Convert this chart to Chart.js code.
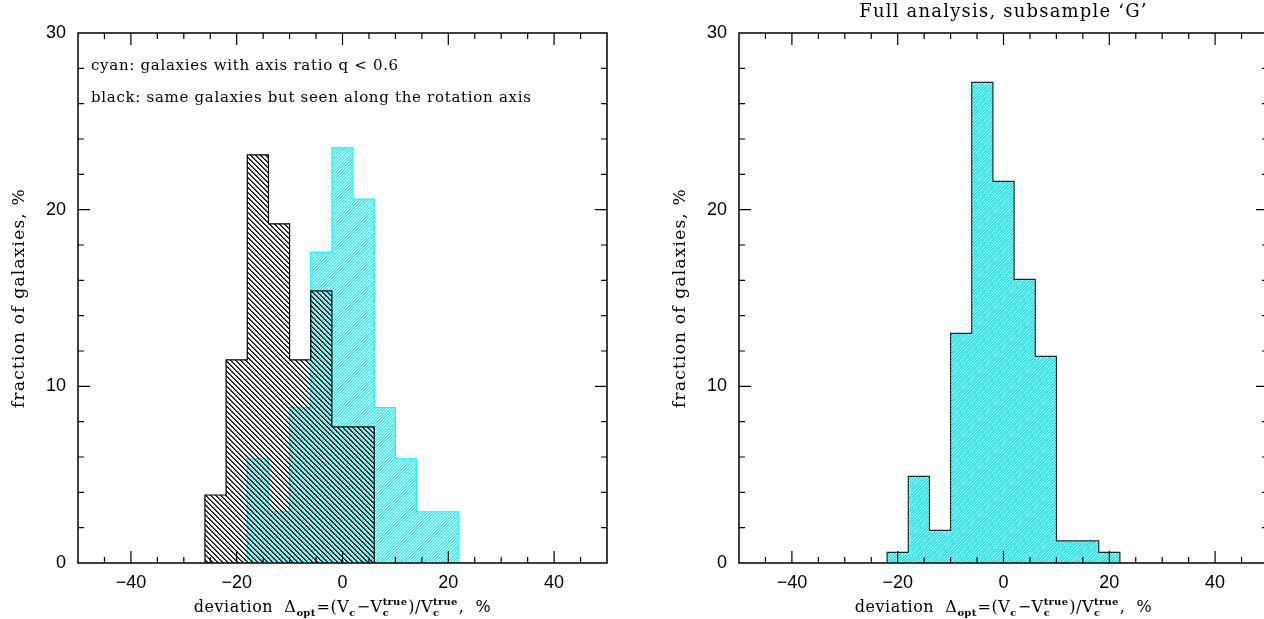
<!DOCTYPE html>
<html>
<head>
<meta charset="utf-8">
<script src="https://cdn.jsdelivr.net/npm/chart.js@4.4.0/dist/chart.umd.min.js"></script>
<style>
html, body { margin: 0; padding: 0; background: #fff; overflow: hidden; width: 1264px; height: 619px; }
.panel { position: absolute; top: 0; }
#leftPanel { left: 0; }
#rightPanel { left: 661px; }
</style>
</head>
<body>
<div class="panel" id="leftPanel"><canvas id="leftChart" width="632" height="619"></canvas></div>
<div class="panel" id="rightPanel"><canvas id="rightChart" width="632" height="619"></canvas></div>
<script>
// histogram bins: edges of the bins (deviation, %) and fraction of galaxies (%)
const blackEdges = [-26, -22, -18, -14, -10, -6, -2, 2, 6];
const blackPct   = [3.85, 11.5, 23.1, 19.2, 11.5, 15.4, 7.7, 7.7];

const cyanEdges = [-18, -14, -10, -6, -2, 2, 6, 10, 14, 18, 22];
const cyanPct   = [5.9, 2.9, 8.8, 17.6, 23.5, 20.6, 8.8, 5.9, 2.9, 2.9];

const fullEdges = [-22, -18, -14, -10, -6, -2, 2, 6, 10, 14, 18, 22];
const fullPct   = [0.6, 4.9, 1.85, 13.0, 27.2, 21.6, 16.05, 11.7, 1.25, 1.25, 0.6];

const xTickValues = [-40, -20, 0, 20, 40];
const yTickValues = [0, 10, 20, 30];

const noteLines = ['cyan: galaxies with axis ratio q < 0.6', 'black: same galaxies but seen along the rotation axis'];
const rightTitle = 'Full analysis, subsample \u2018G\u2019';
const yTitle = 'fraction of galaxies, %';

const SERIF = '"DejaVu Serif", "Liberation Serif", serif';
const SANS = '"Liberation Sans", Arial, sans-serif';

// turn bins into points of a stepped outline
function stepPoints(edges, pct) {
    const pts = [{ x: edges[0], y: 0 }];
    pct.forEach((v, i) => pts.push({ x: edges[i], y: v }));
    pts.push({ x: edges[edges.length - 1], y: 0 });
    return pts;
}

// pixel hatch patterns
function hatch(size, fn) {
    const c = document.createElement('canvas');
    c.width = size; c.height = size;
    const g = c.getContext('2d');
    const img = g.createImageData(size, size);
    for (let y = 0; y < size; y++) {
        for (let x = 0; x < size; x++) {
            const col = fn(x, y);
            if (!col) continue;
            const k = (y * size + x) * 4;
            img.data[k] = col[0]; img.data[k + 1] = col[1]; img.data[k + 2] = col[2]; img.data[k + 3] = col[3];
        }
    }
    g.putImageData(img, 0, 0);
    return g.createPattern(c, 'repeat');
}

const blackHatch = hatch(5, (x, y) => {
    const d = ((x - y) % 5 + 5) % 5;
    return d === 0 ? [0, 0, 0, 255] : d === 1 ? [0, 0, 0, 170] : null;
});
const cyanLightHatch = hatch(3, (x, y) => {
    const d = (x + y) % 3;
    return d === 0 ? [0, 255, 255, 255] : d === 1 ? [0, 255, 255, 130] : null;
});
const cyanHatch = hatch(3, (x, y) => {
    const d = (x + y) % 3;
    return d === 2 ? null : [0, 255, 255, 255];
});

function spaced(ctx, font, spacing) {
    ctx.font = font;
    ctx.letterSpacing = spacing + 'px';
}

// frame with inward ticks on all four sides
const framePlugin = {
    id: 'frame',
    afterDraw(chart) {
        const { ctx, chartArea: a, scales } = chart;
        ctx.save();
        ctx.strokeStyle = '#000';
        ctx.lineWidth = 1.5;
        ctx.strokeRect(a.left, a.top, a.right - a.left, a.bottom - a.top);
        ctx.lineWidth = 1.2;
        ctx.beginPath();
        for (let v = -45; v <= 45; v += 5) {
            const px = scales.x.getPixelForValue(v);
            const len = v % 20 === 0 ? 12 : 6;
            ctx.moveTo(px, a.bottom); ctx.lineTo(px, a.bottom - len);
            ctx.moveTo(px, a.top); ctx.lineTo(px, a.top + len);
        }
        for (let v = 2; v < 30; v += 2) {
            const py = scales.y.getPixelForValue(v);
            const len = v % 10 === 0 ? 12 : 6;
            ctx.moveTo(a.left, py); ctx.lineTo(a.left + len, py);
            ctx.moveTo(a.right, py); ctx.lineTo(a.right - len, py);
        }
        ctx.stroke();

        // y title
        ctx.fillStyle = '#000';
        spaced(ctx, '17px ' + SERIF, 1.2);
        ctx.textAlign = 'center';
        ctx.textBaseline = 'middle';
        ctx.save();
        ctx.translate(20, (a.top + a.bottom) / 2);
        ctx.rotate(-Math.PI / 2);
        ctx.fillText(yTitle, 0, 0);
        ctx.restore();

        drawXTitle(ctx, (a.left + a.right) / 2, 612);
        ctx.restore();
    }
};

// deviation Δopt=(Vc−Vc^true)/Vc^true, %
function drawXTitle(ctx, cx, base) {
    const parts = [
        { text: 'deviation  \u0394' }, { sub: 'opt' }, { text: '=(V' }, { sub: 'c' },
        { text: '\u2212V' }, { sub: 'c', sup: 'true' }, { text: ')/V' }, { sub: 'c', sup: 'true' },
        { text: ',  %' }
    ];
    const big = '16px ' + SERIF, small = 'bold 10px ' + SERIF;
    const widthOf = p => {
        if (p.text) { spaced(ctx, big, 0.5); return ctx.measureText(p.text).width; }
        spaced(ctx, small, 0.3);
        return Math.max(ctx.measureText(p.sub || '').width, ctx.measureText(p.sup || '').width) + 1;
    };
    const total = parts.reduce((s, p) => s + widthOf(p), 0);
    let x = cx - total / 2;
    ctx.textAlign = 'left';
    ctx.textBaseline = 'alphabetic';
    parts.forEach(p => {
        const w = widthOf(p);
        if (p.text) {
            spaced(ctx, big, 0.5); ctx.fillText(p.text, x, base);
        } else {
            spaced(ctx, small, 0.3);
            if (p.sub) ctx.fillText(p.sub, x, base + 4);
            if (p.sup) ctx.fillText(p.sup, x, base - 7);
        }
        x += w;
    });
}

const notesPlugin = {
    id: 'notes',
    afterDraw(chart) {
        const ctx = chart.ctx;
        ctx.save();
        ctx.fillStyle = '#000';
        spaced(ctx, '15px ' + SERIF, 0.7);
        ctx.textAlign = 'left';
        ctx.textBaseline = 'middle';
        ctx.fillText(noteLines[0], 91, 66);
        ctx.fillText(noteLines[1], 91, 98);
        ctx.restore();
    }
};

const titlePlugin = {
    id: 'topTitle',
    afterDraw(chart) {
        const { ctx, chartArea: a } = chart;
        ctx.save();
        ctx.fillStyle = '#000';
        spaced(ctx, '18px ' + SERIF, 1.2);
        ctx.textAlign = 'center';
        ctx.textBaseline = 'middle';
        ctx.fillText(rightTitle, (a.left + a.right) / 2, 12);
        ctx.restore();
    }
};

function histOptions() {
    return {
        responsive: false,
        animation: false,
        layout: { padding: { top: 33, right: 25, left: 0, bottom: 0 } },
        elements: { point: { radius: 0 }, line: { tension: 0 } },
        scales: {
            x: {
                type: 'linear', min: -50, max: 50,
                afterBuildTicks: s => { s.ticks = xTickValues.map(v => ({ value: v })); },
                afterFit: s => { s.height = 56; },
                grid: { display: false, drawTicks: false },
                border: { display: false },
                ticks: {
                    color: '#000', padding: 9, maxRotation: 0,
                    font: { family: SANS, size: 18 },
                    callback: v => (v < 0 ? '\u2212' + Math.abs(v) : String(v))
                }
            },
            y: {
                min: 0, max: 30,
                afterBuildTicks: s => { s.ticks = yTickValues.map(v => ({ value: v })); },
                afterFit: s => { s.width = 78; },
                grid: { display: false, drawTicks: false },
                border: { display: false },
                ticks: { color: '#000', padding: 12, font: { family: SANS, size: 18 } }
            }
        },
        plugins: { legend: { display: false }, tooltip: { enabled: false } }
    };
}

new Chart(document.getElementById('leftChart').getContext('2d'), {
    type: 'line',
    data: {
        datasets: [
            {
                label: 'seen along rotation axis',
                data: stepPoints(blackEdges, blackPct),
                stepped: true,
                borderColor: '#000',
                borderWidth: 1.2,
                backgroundColor: blackHatch,
                fill: 'origin'
            },
            {
                label: 'q < 0.6',
                data: stepPoints(cyanEdges, cyanPct),
                stepped: true,
                borderColor: '#00ffff',
                borderWidth: 1.2,
                backgroundColor: cyanLightHatch,
                fill: 'origin'
            }
        ]
    },
    options: histOptions(),
    plugins: [framePlugin, notesPlugin]
});

new Chart(document.getElementById('rightChart').getContext('2d'), {
    type: 'line',
    data: {
        datasets: [
            {
                label: 'subsample G',
                data: stepPoints(fullEdges, fullPct),
                stepped: true,
                borderColor: '#222',
                borderWidth: 1.2,
                backgroundColor: cyanHatch,
                fill: 'origin'
            }
        ]
    },
    options: histOptions(),
    plugins: [framePlugin, titlePlugin]
});
</script>
</body>
</html>
